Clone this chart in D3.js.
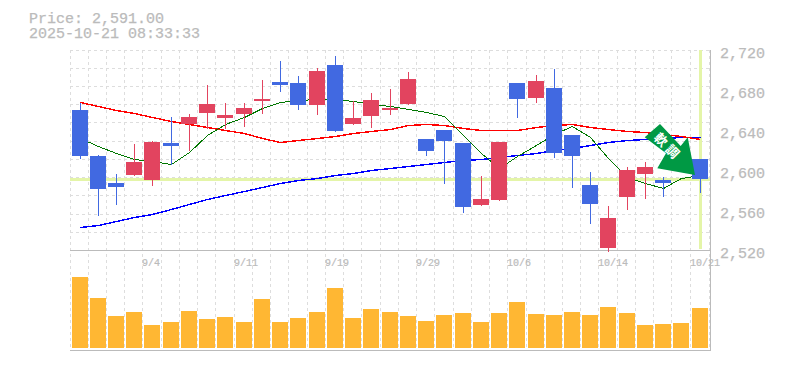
<!DOCTYPE html>
<html><head><meta charset="utf-8">
<script src="https://cdnjs.cloudflare.com/ajax/libs/d3/7.8.5/d3.min.js"></script>
<style>html,body{margin:0;padding:0;background:#fff}svg{display:block}</style>
</head><body><svg id="c" width="785" height="370"></svg>
<script>
const titleLines = ["Price: 2,591.00", "2025-10-21 08:33:33"];
const currentPrice = 2591;
const priceTicks = [2720, 2680, 2640, 2600, 2560, 2520];
const dateTicks = [[4,"9/4"],[9,"9/11"],[14,"9/19"],[19,"9/29"],[24,"10/6"],[29,"10/14"],[34,"10/21"]];
const open  = [2660,2614,2587,2595,2590,2627,2646,2657,2652,2656,2669,2688,2687,2665,2705,2646,2654,2660,2666,2631,2640,2627,2565,2570,2687,2672,2682,2635,2585,2522,2573,2596,2590,2605,2611];
const close = [2614,2581,2583,2608,2628,2624,2653,2666,2655,2662,2671,2685,2665,2699,2639,2652,2670,2662,2691,2619,2629,2563,2571,2628,2671,2689,2617,2614,2566,2552,2600,2603,2587,2615,2591];
const high  = [2668,2616,2597,2627,2630,2654,2657,2686,2668,2668,2691,2710,2695,2703,2715,2670,2678,2682,2699,2631,2640,2627,2595,2628,2687,2696,2702,2635,2599,2565,2604,2609,2594,2620,2612];
const low   = [2612,2555,2566,2595,2585,2606,2620,2642,2642,2644,2657,2679,2661,2656,2639,2646,2643,2656,2666,2615,2587,2558,2565,2570,2653,2668,2613,2583,2547,2519,2561,2572,2574,2600,2578];
const maShort = [2632,2624,2617,2611,2609,2606,2618,2635,2646,2653,2662,2668,2670,2671,2671,2669,2666,2664,2661,2658,2654,2635,2617,2602,2614,2625,2636,2644,2633,2612,2593,2587,2582,2592,2595];
const maMid   = [2668,2664,2660,2657,2653,2649,2646,2643,2640,2637,2632,2628,2630,2632,2634,2637,2639,2641,2645,2646,2645,2642,2640,2640,2640,2643,2645,2646,2643,2641,2639,2638,2636,2634,2631];
const maLong  = [2543,2545,2549,2553,2556,2561,2566,2571,2575,2579,2583,2587,2590,2592,2595,2597,2600,2602,2604,2606,2608,2610,2611,2613,2615,2617,2620,2622,2625,2628,2630,2631,2632,2633,2633];
const volume  = [71,50,32,36,23,26,37,29,31,26,49,26,30,36,60,30,39,36,32,27,33,35,26,35,46,34,33,36,33,41,35,23,24,25,40];
const arrowLabel = "軟調";

const svg = d3.select("#c");
const GRAY = "#bbb", GRID = "#ddd", HL = "#e4f5a8";
const xRaw = d3.scaleLinear().domain([0, 34]).range([70, 690.16]);
const xs = i => Math.floor(xRaw(i));
const y = d3.scaleLinear().domain([2720, 2520]).range([50.5, 250.5]);
const yGrid = d3.scaleLinear().domain([0, 11]).range([50, 250.64]);
const yVol = d3.scaleLinear().domain([0, 98]).range([348, 250]);
const idx = d3.range(open.length);

// grid
const g = svg.append("g").attr("shape-rendering","crispEdges");
idx.concat([35]).forEach(i => {
  const px = i === 35 ? 709 : xs(i);
  g.append("line").attr("x1",px+.5).attr("x2",px+.5).attr("y1",50).attr("y2",350)
    .attr("stroke",GRID).attr("stroke-dasharray","3,3");
});
d3.range(0,11).forEach(k => {
  const py = Math.floor(yGrid(k));
  g.append("line").attr("x1",70).attr("x2",710).attr("y1",py+.5).attr("y2",py+.5)
    .attr("stroke",GRID).attr("stroke-dasharray","3,3");
});

// current price highlight
const cy = Math.floor(y(currentPrice));
g.append("rect").attr("x",70).attr("width",640).attr("y",cy-1).attr("height",3).attr("fill",HL);
g.append("rect").attr("x",xs(34)+9).attr("width",3).attr("y",50).attr("height",199).attr("fill",HL);

// frames
[250,350].forEach(v => g.append("line").attr("x1",70).attr("x2",711).attr("y1",v+.5).attr("y2",v+.5).attr("stroke",GRAY));
g.append("line").attr("x1",710.5).attr("x2",710.5).attr("y1",50).attr("y2",351).attr("stroke",GRAY);

// moving averages
const line = d3.line().x((d,i)=>xs(i)+10.5).y(d=>y(d));
[[maLong,"#0000ff",1.4],[maMid,"#ff0000",1.4],[maShort,"#007700",1]].forEach(([s,c,w]) => {
  svg.append("path").attr("d",line(s)).attr("fill","none").attr("stroke",c).attr("stroke-width",w)
    .attr("shape-rendering","crispEdges");
});

// candles
const UP = "#e2445f", DOWN = "#4169e1";
const cg = svg.append("g").attr("shape-rendering","crispEdges");
idx.forEach(i => {
  const c = close[i] >= open[i] ? UP : DOWN;
  cg.append("line").attr("x1",xs(i)+10.5).attr("x2",xs(i)+10.5).attr("y1",y(high[i])).attr("y2",y(low[i]))
    .attr("stroke",c).attr("stroke-width",1);
  const t = Math.floor(y(Math.max(open[i],close[i]))), b = Math.floor(y(Math.min(open[i],close[i])));
  cg.append("rect").attr("x",xs(i)+2).attr("width",16).attr("y",t).attr("height",Math.max(b-t,1)).attr("fill",c);
  cg.append("rect").attr("x",xs(i)+2).attr("width",16).attr("y",yVol(volume[i])).attr("height",yVol(0)-yVol(volume[i])).attr("fill","#ffb733");
});

// text
const mono = "'Liberation Mono', monospace";
titleLines.forEach((t,i) => svg.append("text").text(t).attr("x",29).attr("y",22.7+15.7*i)
  .attr("textLength",t.length*9).attr("lengthAdjust","spacingAndGlyphs")
  .attr("font-family",mono).attr("font-size",13.8).attr("fill",GRAY).attr("stroke",GRAY).attr("stroke-width",.25));
priceTicks.forEach(p => svg.append("text").text(d3.format(",")(p)).attr("x",720).attr("y",y(p)+7.5)
  .attr("font-family",mono).attr("font-size",15).attr("fill",GRAY).attr("stroke",GRAY).attr("stroke-width",.25));
dateTicks.forEach(([i,t]) => svg.append("text").text(t).attr("x",xs(i)).attr("y",266)
  .attr("font-family",mono).attr("font-size",10).attr("fill",GRAY).attr("stroke",GRAY).attr("stroke-width",.2));

// arrow badge
const arrow = [[660,124],[680.7,146],[687.7,137.3],[695,175],[657.3,168.3],[666,153.3],[644.7,137.3]];
svg.append("polygon").attr("points",arrow.map(p=>p.join(",")).join(" ")).attr("fill","#009944");
arrowLabel.split("").forEach((ch,i) => {
  svg.append("text").text(ch)
    .attr("transform",`translate(${660.7+11.6*i},${140+11.7*i}) rotate(45)`)
    .attr("y",4.5).attr("text-anchor","middle").attr("font-family","'Noto Sans CJK JP'").attr("font-weight",700)
    .attr("font-size",13).attr("fill","#fff");
});
</script></body></html>
